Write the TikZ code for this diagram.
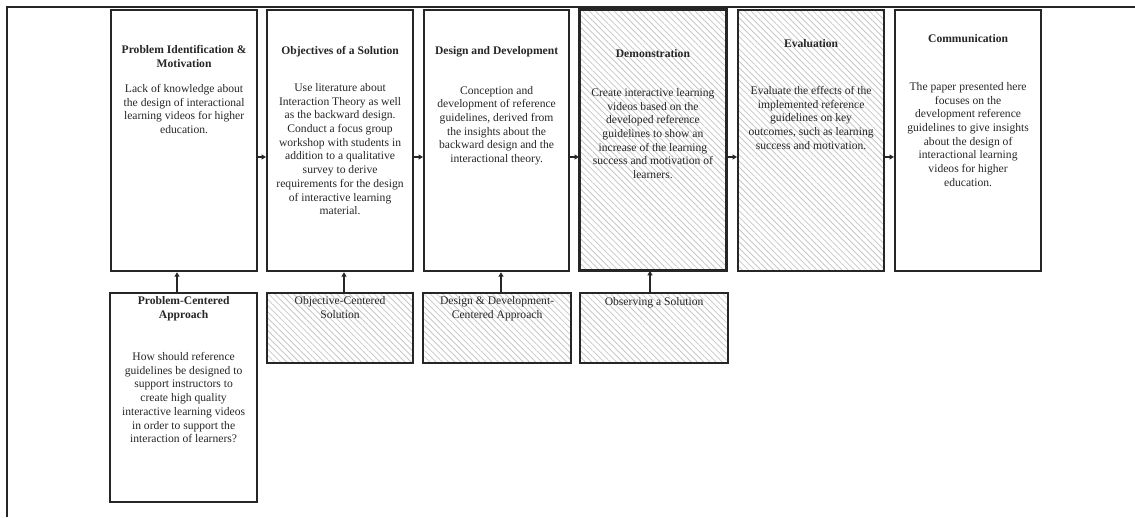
\documentclass[tikz,border=0pt]{standalone}
\usepackage{fontspec}
\setmainfont{Liberation Serif}
\usetikzlibrary{patterns.meta,arrows.meta}
\definecolor{ink}{HTML}{262626}
\begin{document}
\begin{tikzpicture}[x=1pt,y=-1pt,
  box/.style={draw=ink,line width=2.2pt,anchor=north west,inner sep=0pt},
  hatch/.style={pattern={Lines[angle=-45,distance=4.4pt,line width=0.8pt]},pattern color=black!22},
  ttl/.style={align=center,anchor=north,inner sep=0pt,text=ink,font=\fontsize{11.6}{13.7}\selectfont\bfseries,execute at begin node=\strut},
  bdy/.style={align=center,anchor=north,inner sep=0pt,text=ink,font=\fontsize{11.6}{13.7}\selectfont,execute at begin node=\strut},
  arr/.style={draw=ink,line width=1.6pt,-{Triangle[length=4.5pt,width=5pt]}}]
\useasboundingbox (0,0) rectangle (1135,517);
\draw[ink,line width=2pt] (1135,7) -- (7,7) -- (7,517);
% top row
\node[box,minimum width=146pt,minimum height=261pt] (p1) at (110,9) {};
\node[box,minimum width=146pt,minimum height=261pt] (p2) at (266,9) {};
\node[box,minimum width=145pt,minimum height=261pt] (p3) at (423,9) {};
\node[box,hatch,minimum width=147pt,minimum height=261pt] (p4) at (579,9) {};
\node[box,hatch,minimum width=146pt,minimum height=261pt] (p5) at (737,9) {};
\node[box,minimum width=146pt,minimum height=261pt] (p6) at (894,9) {};
% bottom row
\node[box,minimum width=147pt,minimum height=209pt] (b1) at (109,292) {};
\node[box,hatch,minimum width=146pt,minimum height=70pt] (b2) at (266,292) {};
\node[box,hatch,minimum width=148pt,minimum height=70pt] (b3) at (422,292) {};
\node[box,hatch,minimum width=148pt,minimum height=70pt] (b4) at (579,292) {};
% texts top (y = first baseline - strut height)
\node[ttl] (t1) at (p1.north |- 0,45) {Problem Identification \&\\Motivation};
\node[bdy] (d1) at (p1.north |- 0,84.2) {Lack of knowledge about\\the design of interactional\\learning videos for higher\\education.};
\node[ttl] (t2) at (p2.north |- 0,45.2) {Objectives of a Solution};
\node[bdy] (d2) at (p2.north |- 0,83.2) {Use literature about\\Interaction Theory as well\\as the backward design.\\Conduct a focus group\\workshop with students in\\addition to a qualitative\\survey to derive\\requirements for the design\\of interactive learning\\material.};
\node[ttl] (t3) at (p3.north |- 0,45.2) {Design and Development};
\node[bdy] (d3) at (p3.north |- 0,85.9) {Conception and\\development of reference\\guidelines, derived from\\the insights about the\\backward design and the\\interactional theory.};
\node[ttl] (t4) at (p4.north |- 0,47.5) {Demonstration};
\node[bdy] (d4) at (p4.north |- 0,88.2) {Create interactive learning\\videos based on the\\developed reference\\guidelines to show an\\increase of the learning\\success and motivation of\\learners.};
\node[ttl] (t5) at (p5.north |- 0,38.2) {Evaluation};
\node[bdy] (d5) at (p5.north |- 0,86.2) {Evaluate the effects of the\\implemented reference\\guidelines on key\\outcomes, such as learning\\success and motivation.};
\node[ttl] (t6) at (p6.north |- 0,33.2) {Communication};
\node[bdy] (d6) at (p6.north |- 0,82.2) {The paper presented here\\focuses on the\\development reference\\guidelines to give insights\\about the design of\\interactional learning\\videos for higher\\education.};
% texts bottom
\node[ttl] (u1) at (b1.north |- 0,296.2) {Problem-Centered\\Approach};
\node[bdy] (e1) at (b1.north |- 0,352.2) {How should reference\\guidelines be designed to\\support instructors to\\create high quality\\interactive learning videos\\in order to support the\\interaction of learners?};
\node[bdy] (u2) at (b2.north |- 0,296.2) {Objective-Centered\\Solution};
\node[bdy] (u3) at (b3.north |- 0,296.2) {Design \& Development-\\Centered Approach};
\node[bdy] (u4) at (b4.north |- 0,296.2) {Observing a Solution};
% arrows
\coordinate (ay) at (0,157);
\draw[arr] (p1.east |- ay) -- (p2.west |- ay);
\draw[arr] (p2.east |- ay) -- (p3.west |- ay);
\draw[arr] (p3.east |- ay) -- (p4.west |- ay);
\draw[arr] (p4.east |- ay) -- (p5.west |- ay);
\draw[arr] (p5.east |- ay) -- (p6.west |- ay);
\coordinate (x1) at (177,0);
\coordinate (x2) at (344,0);
\coordinate (x3) at (501,0);
\coordinate (x4) at (650,0);
\draw[arr] (b1.north -| x1) -- (p1.south -| x1);
\draw[arr] (b2.north -| x2) -- (p2.south -| x2);
\draw[arr] (b3.north -| x3) -- (p3.south -| x3);
\draw[arr] (b4.north -| x4) -- (p4.south -| x4);
\end{tikzpicture}
\end{document}
